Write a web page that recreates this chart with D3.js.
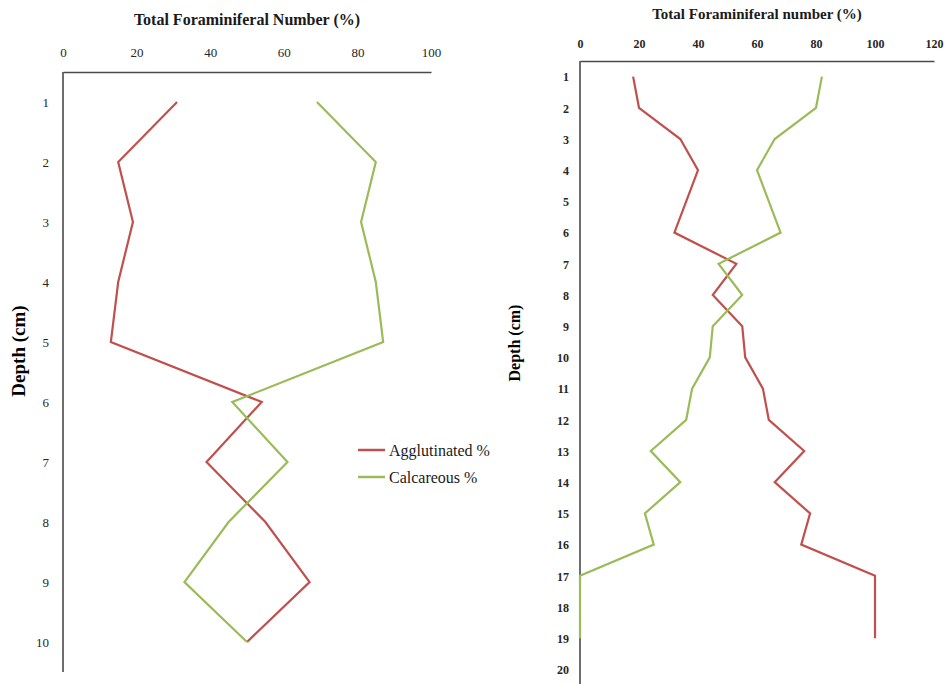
<!DOCTYPE html>
<html>
<head>
<meta charset="utf-8">
<script src="https://cdn.jsdelivr.net/npm/d3@7"></script>
<style>
  html, body { margin: 0; padding: 0; background: #fff; }
  svg { display: block; }
  svg text { font-family: "Liberation Serif", Tinos, "Times New Roman", Times, "DejaVu Serif", serif; }
  .tick text { fill: #262626; }
</style>
</head>
<body>
<svg id="chart" width="946" height="684"></svg>
<script>
// Core A: depths 1–10 cm
const depthsA = [1, 2, 3, 4, 5, 6, 7, 8, 9, 10];
const agglutinatedA = [31, 15, 19, 15, 13, 54, 39, 55, 67, 50];
const calcareousA   = [69, 85, 81, 85, 87, 46, 61, 45, 33, 50];
const ticksA = [0, 20, 40, 60, 80, 100];

// Core B: depths 1–20 cm (no sample at 20 cm)
const depthsB = [1, 2, 3, 4, 5, 6, 7, 8, 9, 10, 11, 12, 13, 14, 15, 16, 17, 18, 19, 20];
const agglutinatedB = [18, 20, 34, 40, 36, 32, 53, 45, 55, 56, 62, 64, 76, 66, 78, 75, 100, 100, 100];
const calcareousB   = [82, 80, 66, 60, 64, 68, 47, 55, 45, 44, 38, 36, 24, 34, 22, 25, 0, 0, 0];
const ticksB = [0, 20, 40, 60, 80, 100, 120];

const seriesNames = ["Agglutinated %", "Calcareous %"];
const colors = { agg: "#c0504d", calc: "#9bbb59" };

const svg = d3.select("#chart");

function drawPanel(cfg) {
  const g = svg.append("g");
  const x = d3.scaleLinear().domain(cfg.xDomain).range(cfg.xRange);
  const y = d3.scalePoint().domain(cfg.depths).range(cfg.yRange).padding(0.5);

  // top value axis
  const xAxis = g.append("g")
    .attr("transform", `translate(0,${cfg.yRange[0]})`)
    .call(d3.axisTop(x).tickValues(cfg.ticks).tickSize(0).tickPadding(cfg.xPad).tickSizeOuter(0));
  xAxis.attr("font-family", null);
  xAxis.select(".domain").attr("stroke", "#4a4a4a").attr("stroke-width", 1.6);
  xAxis.selectAll("text").attr("font-size", cfg.tickFont).attr("font-weight", cfg.tickWeight);

  // left depth axis
  const yAxis = g.append("g")
    .attr("transform", `translate(${cfg.xRange[0]},0)`)
    .call(d3.axisLeft(y).tickSize(0).tickPadding(cfg.yPad).tickSizeOuter(0));
  yAxis.attr("font-family", null);
  yAxis.select(".domain").attr("stroke", "#4a4a4a").attr("stroke-width", 1.6)
    .attr("d", `M0,${cfg.yRange[0]}V${cfg.yRange[1]}`);
  yAxis.selectAll("text").attr("font-size", cfg.tickFont).attr("font-weight", cfg.tickWeight)
    .attr("dy", "0.36em");

  const line = d3.line()
    .x(d => x(d.v))
    .y(d => y(d.depth));

  const toPts = vals => vals.map((v, i) => ({ depth: cfg.depths[i], v }));

  g.append("path").datum(toPts(cfg.agg))
    .attr("d", line).attr("fill", "none")
    .attr("stroke", colors.agg).attr("stroke-width", 2.2).attr("stroke-linejoin", "miter");
  g.append("path").datum(toPts(cfg.calc))
    .attr("d", line).attr("fill", "none")
    .attr("stroke", colors.calc).attr("stroke-width", 2.2).attr("stroke-linejoin", "miter");

  // titles
  g.append("text")
    .attr("x", cfg.titleX).attr("y", cfg.titleY)
    .attr("text-anchor", "middle")
    .attr("font-weight", "bold")
    .attr("font-size", cfg.titleFont).attr("fill", "#1a1a1a")
    .text(cfg.title);

  g.append("text")
    .attr("transform", `translate(${cfg.yTitleX},${cfg.yTitleY}) rotate(-90)`)
    .attr("text-anchor", "middle")
    .attr("font-weight", "bold")
    .attr("font-size", cfg.yTitleFont).attr("fill", "#000")
    .text("Depth (cm)");
}

drawPanel({
  depths: depthsA, agg: agglutinatedA, calc: calcareousA, ticks: ticksA,
  xDomain: [0, 100], xRange: [63, 431], yRange: [72, 672],
  xPad: 15, yPad: 14, tickFont: "13px", tickWeight: "normal",
  title: "Total Foraminiferal Number  (%)", titleX: 247, titleY: 25, titleFont: "16px",
  yTitleX: 25, yTitleY: 351, yTitleFont: "19px"
});

drawPanel({
  depths: depthsB, agg: agglutinatedB, calc: calcareousB, ticks: ticksB,
  xDomain: [0, 120], xRange: [580, 934], yRange: [61, 685],
  xPad: 13, yPad: 11, tickFont: "12px", tickWeight: "bold",
  title: "Total Foraminiferal number (%)", titleX: 757, titleY: 19, titleFont: "15px",
  yTitleX: 520, yTitleY: 343, yTitleFont: "16px"
});

// legend for the left panel
const legend = svg.append("g").attr("transform", "translate(358,450)");
const legendColors = [colors.agg, colors.calc];
seriesNames.forEach((name, i) => {
  const row = legend.append("g").attr("transform", `translate(0,${i * 27})`);
  row.append("line").attr("x1", 0).attr("x2", 27).attr("y1", 0).attr("y2", 0)
    .attr("stroke", legendColors[i]).attr("stroke-width", 2.5);
  row.append("text").attr("x", 31).attr("y", 0).attr("dy", "0.35em")
    .attr("font-size", "16px").attr("fill", "#1a1a1a")
    .text(name);
});
</script>
</body>
</html>
